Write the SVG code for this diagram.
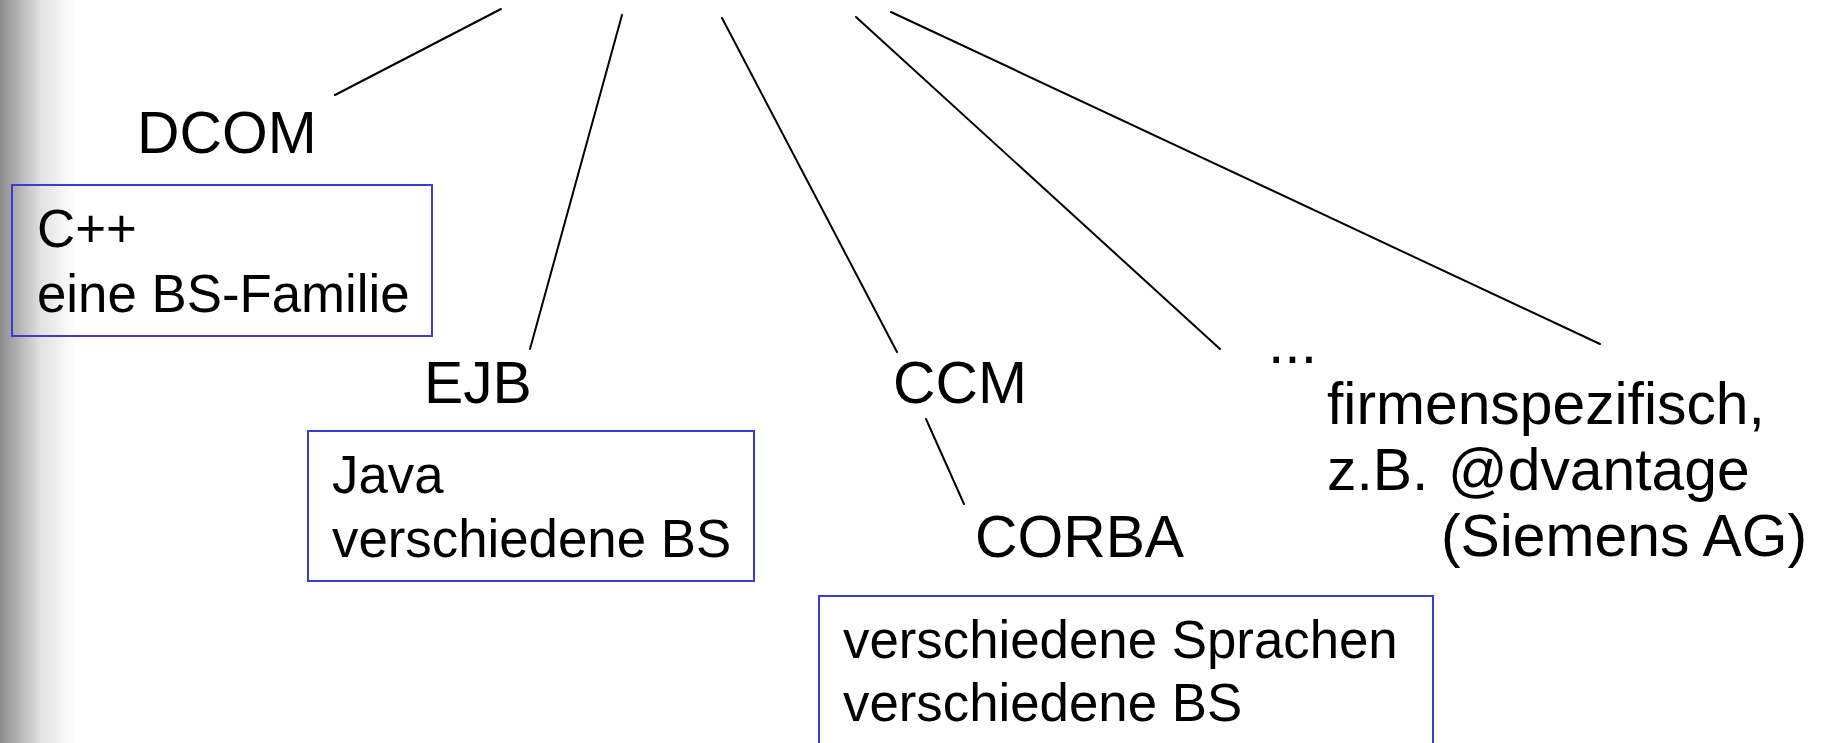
<svg xmlns="http://www.w3.org/2000/svg" width="1826" height="743" viewBox="0 0 1826 743">
  <defs>
    <linearGradient id="edgeShade" x1="0" y1="0" x2="1" y2="0">
      <stop offset="0" stop-color="#8c8c8c"/>
      <stop offset="0.25" stop-color="#b4b4b4"/>
      <stop offset="0.55" stop-color="#e2e2e2"/>
      <stop offset="1" stop-color="#ffffff"/>
    </linearGradient>
  </defs>
  <style>
    .lbl { font-family: "Liberation Sans", Arial, sans-serif; font-size: 58.8px; fill: #000; }
    .txt { font-family: "Liberation Sans", Arial, sans-serif; font-size: 52.8px; fill: #000; }
    .box { fill: none; stroke: #3c3cd2; stroke-width: 2; }
    .con { stroke: #000; stroke-width: 2; fill: none; stroke-linecap: round; }
  </style>

  <!-- page background with shaded left edge -->
  <rect x="0" y="0" width="1826" height="743" fill="#ffffff"/>
  <rect x="0" y="0" width="75" height="743" fill="url(#edgeShade)"/>

  <!-- connectors -->
  <g id="connectors">
    <line class="con" x1="335" y1="95" x2="501" y2="9"/>
    <line class="con" x1="530" y1="349" x2="622" y2="15"/>
    <line class="con" x1="897" y1="352" x2="722" y2="18"/>
    <line class="con" x1="1220" y1="349" x2="856" y2="17"/>
    <line class="con" x1="1600" y1="344" x2="891" y2="12"/>
    <line class="con" x1="926" y1="419" x2="964" y2="504"/>
  </g>

  <g id="dcom">
    <text class="lbl" x="137" y="153">DCOM</text>
    <rect class="box" x="12" y="185" width="420" height="151"/>
    <text class="txt" x="37" y="247">C++</text>
    <text class="txt" x="37" y="312">eine BS-Familie</text>
  </g>

  <g id="ejb">
    <text class="lbl" x="424" y="403">EJB</text>
    <rect class="box" x="308" y="431" width="446" height="150"/>
    <text class="txt" x="332" y="493">Java</text>
    <text class="txt" x="332" y="557">verschiedene BS</text>
  </g>

  <g id="ccm">
    <text class="lbl" x="893" y="403">CCM</text>
  </g>

  <g id="corba">
    <text class="lbl" x="975" y="557">CORBA</text>
    <rect class="box" x="819" y="596" width="614" height="170"/>
    <text class="txt" x="843" y="658">verschiedene Sprachen</text>
    <text class="txt" x="843" y="721">verschiedene BS</text>
  </g>

  <g id="more">
    <text class="lbl" x="1268" y="363">...</text>
  </g>

  <g id="proprietary">
    <text class="lbl" x="1327" y="424">firmenspezifisch,</text>
    <text class="lbl" x="1327" y="490">z.B.<tspan x="1448">@dvantage</tspan></text>
    <text class="lbl" x="1441" y="556">(Siemens AG)</text>
  </g>
</svg>
